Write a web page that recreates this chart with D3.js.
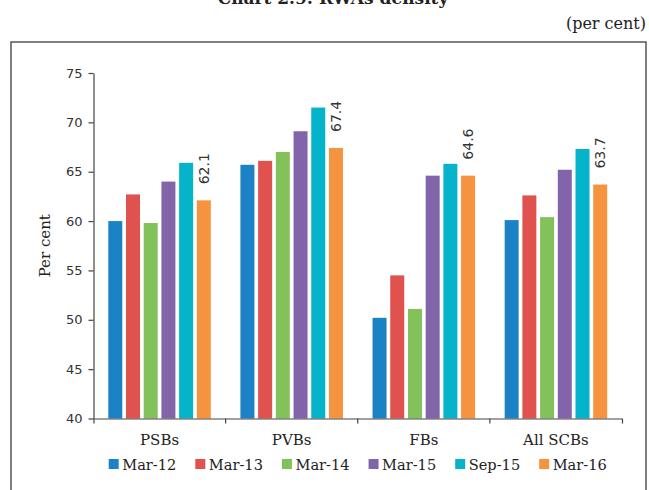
<!DOCTYPE html>
<html>
<head>
<meta charset="utf-8">
<script src="https://cdn.jsdelivr.net/npm/d3@7"></script>
<style>
  html, body { margin: 0; padding: 0; background: #fff; }
  svg { display: block; }
</style>
</head>
<body>
<svg id="chart" width="649" height="490"></svg>
<script>
// Bank groups and reporting dates
const categories = ["PSBs", "PVBs", "FBs", "All SCBs"];
const periods = ["Mar-12", "Mar-13", "Mar-14", "Mar-15", "Sep-15", "Mar-16"];

// RWA density (per cent), one array per bank group, in period order
const psbs    = [60.0, 62.7, 59.8, 64.0, 65.9, 62.1];
const pvbs    = [65.7, 66.1, 67.0, 69.1, 71.5, 67.4];
const fbs     = [50.2, 54.5, 51.1, 64.6, 65.8, 64.6];
const allScbs = [60.1, 62.6, 60.4, 65.2, 67.3, 63.7];

const yTicks = [40, 45, 50, 55, 60, 65, 70, 75];
const colors = ["#1b82c5", "#e0524e", "#83c15a", "#8264aa", "#05b3cb", "#f5933e"];

const seriesByGroup = [psbs, pvbs, fbs, allScbs];
const rows = categories.map((c, i) => ({
  category: c,
  values: periods.map((p, j) => ({ period: p, value: seriesByGroup[i][j] }))
}));

const svg = d3.select("#chart");
const serif = "'DejaVu Serif', serif";
const sans = "'DejaVu Sans', sans-serif";
const axisColor = "#444";

// Title (partly above the frame) and unit note
svg.append("text")
  .attr("x", 333).attr("y", 4)
  .attr("text-anchor", "middle")
  .attr("font-family", serif).attr("font-weight", "bold")
  .attr("font-size", 17).attr("fill", "#222")
  .text("Chart 2.9: RWAs density");

svg.append("text")
  .attr("x", 646).attr("y", 29)
  .attr("text-anchor", "end")
  .attr("font-family", serif).attr("font-size", 16).attr("fill", "#222")
  .text("(per cent)");

// Open frame around the chart
svg.append("path")
  .attr("d", "M11,495V42H646V495")
  .attr("fill", "none").attr("stroke", "#555").attr("stroke-width", 1.5);

// Scales
const x0 = d3.scaleBand().domain(categories).range([93.5, 622]).paddingInner(0).paddingOuter(0);
const x1 = d3.scaleBand().domain(periods).range([0, x0.bandwidth()]).paddingInner(0.21).paddingOuter(0.835);
const y = d3.scaleLinear().domain([40, 75]).range([418.5, 73]);
const color = d3.scaleOrdinal().domain(periods).range(colors);

// Bars
const groups = svg.append("g").selectAll("g")
  .data(rows).join("g")
  .attr("transform", d => `translate(${x0(d.category)},0)`);

groups.selectAll("rect")
  .data(d => d.values).join("rect")
  .attr("x", d => x1(d.period))
  .attr("y", d => y(d.value))
  .attr("width", x1.bandwidth())
  .attr("height", d => y(40) - y(d.value))
  .attr("fill", d => color(d.period));

// Rotated value labels above the latest bar
groups.append("text")
  .datum(d => d.values[d.values.length - 1])
  .attr("transform", d => `translate(${x1(d.period) + x1.bandwidth() / 2},${y(d.value) - 16}) rotate(-90)`)
  .attr("dy", "0.36em")
  .attr("font-family", sans).attr("font-size", 14).attr("fill", "#333")
  .text(d => d.value.toFixed(1));

// Y axis
const yAxis = svg.append("g")
  .attr("transform", "translate(93.5,0)")
  .call(d3.axisLeft(y).tickValues(yTicks).tickSize(5).tickSizeOuter(0).tickPadding(6));
yAxis.selectAll("path, line").attr("stroke", axisColor).attr("stroke-width", 1.2);
yAxis.selectAll("text").attr("font-family", sans).attr("font-size", 13).attr("fill", "#333");

// X axis: labels centred on groups, ticks at group boundaries
const xAxis = svg.append("g")
  .attr("transform", `translate(0,${y(40)})`)
  .call(d3.axisBottom(x0).tickSizeInner(0).tickSizeOuter(5).tickPadding(16));
xAxis.selectAll("path").attr("stroke", axisColor).attr("stroke-width", 1.2);
xAxis.selectAll("text").attr("font-family", serif).attr("font-size", 15).attr("fill", "#222");
xAxis.selectAll(".boundary")
  .data(categories.slice(1)).join("line")
  .attr("class", "boundary")
  .attr("x1", d => x0(d)).attr("x2", d => x0(d))
  .attr("y1", 0).attr("y2", 5)
  .attr("stroke", axisColor).attr("stroke-width", 1.2);

// Y axis title
svg.append("text")
  .attr("transform", `translate(45,${(y(40) + y(75)) / 2}) rotate(-90)`)
  .attr("text-anchor", "middle").attr("dy", "0.35em")
  .attr("font-family", serif).attr("font-size", 15).attr("fill", "#222")
  .text("Per cent");

// Legend, centred under the plot
const legend = svg.append("g");
const items = legend.selectAll("g").data(periods).join("g");
items.append("rect")
  .attr("width", 10).attr("height", 10).attr("y", 459)
  .attr("fill", d => color(d));
items.append("text")
  .attr("x", 13.5).attr("y", 469.5)
  .attr("font-family", serif).attr("font-size", 14.6).attr("fill", "#222")
  .text(d => d);

let cursor = 0;
const gap = 19;
items.each(function () {
  const w = 13.5 + d3.select(this).select("text").node().getComputedTextLength();
  d3.select(this).attr("transform", `translate(${cursor},0)`);
  cursor += w + gap;
});
const totalWidth = cursor - gap;
const mid = (x0.range()[0] + x0.range()[1]) / 2;
legend.attr("transform", `translate(${mid - totalWidth / 2},0)`);
</script>
</body>
</html>
